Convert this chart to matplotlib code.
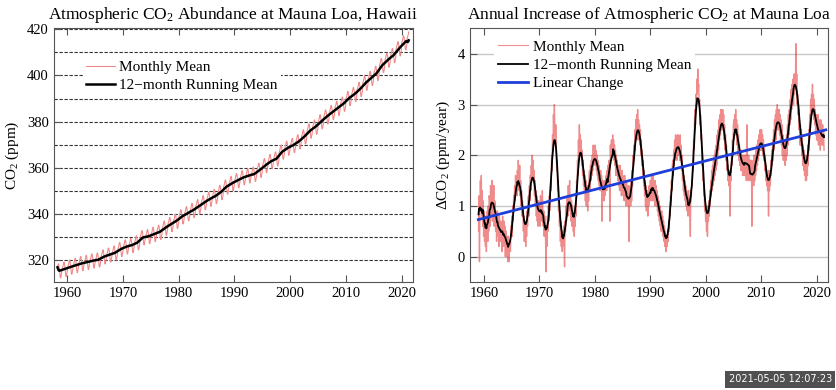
import numpy as np
import pandas as pd
import matplotlib
matplotlib.use('Agg')
import matplotlib.pyplot as plt
from matplotlib.ticker import MultipleLocator

plt.rcParams['font.family'] = ['Liberation Serif', 'DejaVu Serif']
plt.rcParams['mathtext.fontset'] = 'custom'
plt.rcParams['mathtext.rm'] = 'Liberation Serif'
plt.rcParams['mathtext.it'] = 'Liberation Serif:italic'

# Mauna Loa CO2, annual means (ppm), 1958..2021
co2_years = list(range(1958, 2022))
co2_annual = [315.3, 315.98, 316.91, 317.64, 318.45, 318.99, 319.62, 320.04,
              321.37, 322.18, 323.05, 324.62, 325.68, 326.32, 327.46, 329.68,
              330.19, 331.13, 332.03, 333.84, 335.41, 336.84, 338.76, 340.12,
              341.48, 343.15, 344.87, 346.35, 347.61, 349.31, 351.69, 353.20,
              354.45, 355.70, 356.54, 357.21, 358.96, 360.97, 362.74, 363.88,
              366.84, 368.54, 369.71, 371.32, 373.45, 375.98, 377.70, 379.98,
              382.09, 384.02, 385.83, 387.64, 390.10, 391.85, 394.06, 396.74,
              398.81, 401.01, 404.41, 406.76, 408.72, 411.66, 414.24, 416.4]
# seasonal cycle, Jan..Dec (ppm)
co2_seasonal = [0.0, 0.6, 1.4, 2.5, 3.0, 2.3, 0.8, -1.3, -3.0, -3.2, -2.0, -0.9]
co2_skip_start = 2   # record starts March 1958
co2_skip_end = 8     # record ends April 2021

# annual increase, monthly values (ppm/year), Jan 1959 .. Apr 2021
growth_start = 1959
growth_monthly = [
    0.5, 1.2, -0.1, 0.9, 1.5, 1.0, 1.6, 0.8, 1.3, 0.6, 1.1, 0.4,    # 1959
    0.9, 0.3, 0.7, 0.2, 0.8, 0.1, 0.6, 0.9, 0.3, 1.0, 0.5, 1.2,     # 1960
    1.1, 0.6, 1.4, 0.8, 1.2, 1.5, 0.7, 1.3, 1.0, 1.4, 0.6, 1.1,     # 1961
    1.0, 0.5, 0.9, 0.3, 0.8, 0.9, 0.4, 0.7, 0.2, 0.8, 0.6, 0.3,     # 1962
    0.7, 0.3, 0.6, 0.1, 0.8, 0.5, 0.2, 0.7, 0.4, 0.6, 0.0, 0.5,     # 1963
    0.5, 0.0, 0.4, -0.1, 0.4, 0.1, -0.1, 0.3, 0.2, 0.1, 0.6, 0.5,   # 1964
    0.8, 0.4, 1.0, 0.7, 1.2, 0.9, 1.4, 1.1, 1.6, 1.3, 1.5, 1.2,     # 1965
    1.7, 1.3, 1.9, 1.5, 1.4, 1.8, 1.2, 1.5, 1.0, 1.3, 0.8, 1.1,     # 1966
    0.9, 0.5, 0.8, 0.3, 0.7, 0.6, 0.2, 0.7, 0.4, 0.9, 0.6, 1.1,     # 1967
    1.2, 0.8, 1.4, 1.1, 1.6, 1.3, 1.8, 1.5, 2.0, 1.6, 1.9, 1.5,     # 1968
    1.7, 1.2, 1.5, 1.0, 1.3, 0.8, 1.2, 0.7, 1.0, 0.6, 1.1, 0.7,     # 1969
    1.0, 0.6, 1.2, 0.8, 1.1, 0.7, 1.3, 0.9, 0.6, 0.9, 0.4, 0.8,     # 1970
    0.7, 0.3, -0.3, 0.6, 0.2, 0.8, 0.5, 1.0, 0.7, 1.2, 0.9, 1.4,    # 1971
    1.5, 1.3, 2.0, 1.7, 2.4, 2.1, 2.8, 2.4, 3.0, 2.5, 2.2, 2.6,     # 1972
    2.2, 1.7, 1.9, 1.3, 1.5, 0.9, 1.1, 0.6, 0.9, 0.3, 0.7, 0.2,     # 1973
    0.5, 0.1, 0.4, 0.2, 0.6, 0.3, -0.2, 0.7, 0.5, 1.0, 0.7, 1.1,    # 1974
    1.2, 0.8, 1.4, 1.0, 1.3, 1.5, 0.9, 1.2, 0.7, 1.1, 0.6, 1.0,     # 1975
    0.9, 0.5, 0.8, 0.4, 0.9, 0.6, 1.1, 0.8, 1.5, 1.2, 1.9, 1.6,     # 1976
    2.3, 1.9, 2.6, 2.1, 2.4, 2.0, 2.3, 1.8, 2.1, 1.6, 1.9, 1.4,     # 1977
    1.7, 1.3, 1.6, 1.1, 1.5, 1.0, 1.4, 1.2, 0.9, 1.4, 1.1, 1.6,     # 1978
    1.7, 1.3, 1.8, 1.5, 1.9, 1.6, 2.0, 1.7, 2.2, 1.8, 2.1, 1.9,     # 1979
    2.2, 1.8, 2.1, 1.7, 2.0, 1.6, 1.9, 1.5, 1.8, 1.4, 1.7, 1.3,     # 1980
    1.7, 1.3, 1.6, 0.7, 1.5, 1.2, 1.4, 1.1, 1.5, 1.2, 1.4, 1.5,     # 1981
    1.6, 1.3, 1.7, 1.4, 1.8, 1.5, 1.9, 1.6, 0.7, 2.2, 1.9, 2.3,     # 1982
    2.3, 2.0, 2.4, 2.0, 2.3, 1.9, 2.2, 1.8, 2.1, 1.6, 2.0, 1.6,     # 1983
    1.9, 1.5, 1.8, 1.4, 1.7, 1.3, 1.8, 1.4, 1.6, 1.2, 1.7, 1.3,     # 1984
    1.6, 1.2, 1.5, 1.1, 1.6, 1.2, 1.4, 1.0, 1.5, 1.1, 1.3, 1.0,     # 1985
    1.4, 0.3, 1.3, 1.0, 1.4, 1.0, 1.5, 1.1, 1.7, 1.4, 2.0, 1.8,     # 1986
    2.2, 1.9, 2.5, 2.1, 2.7, 2.3, 2.8, 2.4, 2.9, 2.3, 2.7, 2.4,     # 1987
    2.6, 2.2, 2.5, 2.0, 2.3, 1.8, 2.1, 1.6, 1.9, 1.4, 1.7, 1.2,     # 1988
    1.5, 1.0, 1.4, 0.9, 1.3, 1.2, 0.8, 1.3, 1.0, 1.4, 1.1, 1.5,     # 1989
    1.5, 1.1, 1.6, 1.2, 1.5, 1.1, 1.6, 1.2, 1.4, 1.0, 1.5, 1.1,     # 1990
    1.4, 1.0, 1.3, 0.9, 1.2, 0.8, 1.1, 0.7, 1.0, 0.6, 0.9, 0.5,     # 1991
    0.9, 0.5, 0.8, 0.4, 0.7, 0.3, 0.6, 0.2, 0.5, 0.1, 0.4, 0.2,     # 1992
    0.2, 0.5, 0.3, 0.7, 0.5, 0.9, 0.8, 1.2, 1.0, 1.5, 1.3, 1.8,     # 1993
    1.9, 1.6, 2.1, 1.8, 2.3, 1.9, 2.4, 2.0, 2.3, 1.9, 2.4, 2.0,     # 1994
    2.4, 2.0, 2.3, 1.9, 2.4, 1.9, 2.2, 1.7, 2.0, 1.5, 1.8, 1.3,     # 1995
    1.6, 1.2, 1.5, 1.1, 1.4, 1.0, 1.3, 0.9, 1.2, 0.8, 1.3, 0.9,     # 1996
    1.2, 0.8, 0.4, 1.3, 1.1, 1.5, 1.4, 1.9, 1.7, 2.3, 2.1, 2.7,     # 1997
    2.9, 2.6, 3.2, 2.9, 3.5, 3.2, 3.7, 3.3, 3.4, 3.0, 3.1, 2.6,     # 1998
    2.8, 2.3, 2.4, 1.8, 2.0, 1.5, 1.7, 1.2, 1.3, 0.9, 1.1, 0.7,     # 1999
    0.9, 0.5, 0.9, 0.4, 1.0, 0.7, 1.1, 0.8, 1.3, 1.0, 1.5, 1.2,     # 2000
    1.7, 1.3, 1.8, 1.4, 1.9, 1.5, 2.0, 1.6, 2.1, 1.7, 2.2, 1.8,     # 2001
    2.4, 2.0, 2.5, 2.1, 2.7, 2.3, 2.8, 2.4, 2.9, 2.5, 2.9, 2.5,     # 2002
    2.9, 2.5, 2.8, 2.3, 2.6, 2.1, 2.4, 1.9, 2.2, 1.7, 2.0, 1.5,     # 2003
    1.8, 1.4, 1.7, 1.3, 0.8, 1.7, 1.5, 2.0, 1.8, 2.3, 2.1, 2.6,     # 2004
    2.7, 2.4, 2.8, 2.4, 2.9, 2.4, 2.7, 2.2, 2.6, 2.0, 2.4, 1.9,     # 2005
    2.2, 1.8, 2.1, 1.7, 2.1, 1.7, 2.0, 1.6, 2.0, 1.6, 2.0, 1.6,     # 2006
    2.0, 1.6, 2.0, 1.5, 2.6, 1.7, 1.9, 1.5, 2.0, 1.6, 1.9, 1.5,     # 2007
    1.9, 1.5, 1.9, 0.6, 1.8, 1.5, 1.9, 1.4, 2.0, 1.5, 2.0, 1.6,     # 2008
    2.1, 1.7, 2.2, 1.8, 2.3, 1.9, 2.4, 2.0, 2.5, 2.1, 2.5, 2.1,     # 2009
    2.5, 2.1, 2.4, 2.0, 2.3, 1.9, 2.2, 1.7, 2.0, 1.5, 1.8, 1.4,     # 2010
    1.7, 1.3, 1.7, 0.8, 1.6, 1.3, 1.7, 1.4, 1.9, 1.6, 2.1, 1.8,     # 2011
    2.3, 1.9, 2.5, 2.1, 2.7, 2.3, 2.8, 2.3, 2.9, 2.5, 3.0, 2.5,     # 2012
    2.9, 2.5, 2.9, 2.4, 2.8, 2.3, 2.7, 2.2, 2.6, 2.0, 2.4, 1.9,     # 2013
    2.3, 1.9, 2.2, 1.8, 2.3, 1.9, 2.4, 2.0, 2.6, 2.2, 2.8, 2.4,     # 2014
    2.9, 2.6, 3.1, 2.7, 3.3, 2.9, 3.4, 3.0, 3.5, 3.0, 3.6, 3.2,     # 2015
    3.6, 3.3, 4.2, 3.3, 3.6, 3.0, 3.2, 2.8, 2.9, 2.5, 2.7, 2.2,     # 2016
    2.6, 2.2, 2.5, 2.0, 2.4, 1.8, 2.2, 1.7, 2.1, 1.6, 2.0, 1.5,     # 2017
    1.9, 1.5, 2.0, 1.6, 2.2, 1.8, 2.5, 2.1, 2.8, 2.4, 3.1, 2.7,     # 2018
    3.2, 2.8, 3.4, 2.8, 3.2, 2.7, 3.1, 2.6, 2.9, 2.4, 2.8, 2.3,     # 2019
    2.7, 2.3, 2.8, 2.2, 2.7, 2.3, 2.6, 2.1, 2.7, 2.3, 2.6, 2.2,     # 2020
    2.6, 2.2, 2.5, 2.1,                                             # 2021
]
# linear change, end points
lin_years = [1959.0, 2021.6]
lin_values = [0.73, 2.50]

# --- build series
co2_t = []
co2_v = []
for yr, ann in zip(co2_years, co2_annual):
    for m, s in enumerate(co2_seasonal):
        co2_t.append(yr + (m + 0.5) / 12)
        co2_v.append(ann + s)
co2_t = np.array(co2_t[co2_skip_start:len(co2_t) - co2_skip_end])
co2_v = np.array(co2_v[co2_skip_start:len(co2_v) - co2_skip_end])
co2_run = pd.Series(co2_v).rolling(12, center=True, min_periods=6).mean()

gr_v = np.array(growth_monthly)
gr_t = growth_start + (np.arange(len(gr_v)) + 0.5) / 12
gr_run = pd.Series(gr_v).rolling(12, center=True, min_periods=6).mean()

fig = plt.figure(figsize=(8.37, 3.9), dpi=100)
ax1 = fig.add_axes([0.064, 0.277, 0.429, 0.650])
ax2 = fig.add_axes([0.5615, 0.277, 0.4277, 0.650])

# left panel
ax1.plot(co2_t, co2_v, color='#f08a8a', lw=0.8, label='Monthly Mean')
ax1.plot(co2_t, co2_run, color='black', lw=1.8, label='12\u2212month Running Mean')
ax1.set_xlim(1957.5, 2022)
ax1.set_ylim(310.4, 420.4)
ax1.yaxis.set_major_locator(MultipleLocator(20))
ax1.yaxis.set_minor_locator(MultipleLocator(10))
ax1.xaxis.set_major_locator(MultipleLocator(10))
ax1.grid(True, axis='y', which='both', color='#333333', lw=0.8, ls=(0, (3, 1.5)))
ax1.tick_params(axis='y', which='minor', length=0)
ax1.set_ylabel(r'CO$_2$ (ppm)', fontsize=11)
ax1.set_title(r'Atmospheric CO$_2$ Abundance at Mauna Loa, Hawaii', fontsize=12.5, pad=7)
leg1 = ax1.legend(loc='upper left', bbox_to_anchor=(0.06, 0.915), fontsize=11,
                  frameon=True, fancybox=False, framealpha=1, edgecolor='none',
                  handlelength=1.9, handletextpad=0.3, labelspacing=0.25, borderpad=0.2)

# right panel
ax2.plot(gr_t, gr_v, color='#e01818', alpha=0.5, lw=1.0, label='Monthly Mean')
ax2.plot(gr_t, gr_run, color='black', lw=1.3, label='12\u2212month Running Mean')
ax2.plot(lin_years, lin_values, color='#1f3fd8', lw=2.0, label='Linear Change')
ax2.set_xlim(1957.5, 2022)
ax2.set_ylim(-0.5, 4.5)
ax2.yaxis.set_major_locator(MultipleLocator(1))
ax2.xaxis.set_major_locator(MultipleLocator(10))
ax2.grid(True, axis='y', color='#c8c8c8', lw=1.0)
ax2.set_ylabel(r'$\Delta$CO$_2$ (ppm/year)', fontsize=11)
ax2.set_title(r'Annual Increase of Atmospheric CO$_2$ at Mauna Loa', fontsize=12.5, pad=7)
leg2 = ax2.legend(loc='upper left', bbox_to_anchor=(0.045, 1.0), fontsize=11,
                  frameon=True, fancybox=False, framealpha=1, edgecolor='none',
                  handlelength=2.0, handletextpad=0.3, labelspacing=0.3, borderpad=0.25)
for line in leg2.get_lines():
    line.set_alpha(1)
leg2.get_lines()[0].set_color('#f09090')
leg2.get_lines()[0].set_linewidth(0.8)

for ax in (ax1, ax2):
    ax.set_axisbelow(True)
    for sp in ax.spines.values():
        sp.set_color('#555555')
    ax.tick_params(direction='in', top=True, right=False, labelsize=10.5,
                   length=5, color='#555555')

fig.text(0.994, 0.028, '2021-05-05 12:07:23', color='white', fontsize=7,
         family='DejaVu Sans', ha='right', va='center',
         bbox=dict(facecolor='#505050', edgecolor='none', pad=2.5))

plt.savefig('out.png', dpi=100)
